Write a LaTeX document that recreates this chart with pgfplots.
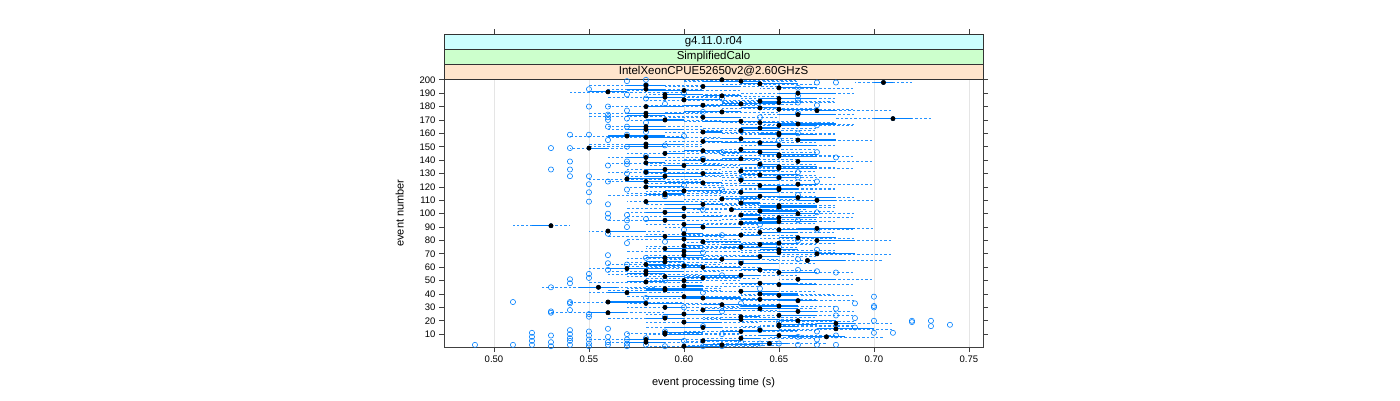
\documentclass[border=0pt]{standalone}
\usepackage{pgfplots}
\pgfplotsset{compat=1.18}
\usepackage{pgfplotstable}
\usepackage{fontspec}
\setmainfont{Liberation Sans}
\definecolor{bwblue}{HTML}{0080FF}
\definecolor{stripA}{HTML}{FFE5CC}
\definecolor{stripB}{HTML}{CCFFCC}
\definecolor{stripC}{HTML}{CCFFFF}

\pgfplotstableread{
ev lw q1 med q3 hw
1 0.58 0.60 0.60 0.62 0.64
2 0.60 0.61 0.62 0.64 0.65
3 0.615 0.635 0.645 0.655 0.675
4 0.56 0.57 0.58 0.59 0.61
5 0.60 0.61 0.61 0.63 0.65
6 0.55 0.57 0.58 0.60 0.61
7 0.61 0.63 0.63 0.64 0.67
8 0.645 0.655 0.675 0.685 0.705
9 0.63 0.64 0.65 0.66 0.68
10 0.58 0.59 0.59 0.61 0.63
11 0.57 0.59 0.59 0.61 0.63
12 0.60 0.62 0.63 0.64 0.66
13 0.62 0.63 0.64 0.66 0.67
14 0.65 0.67 0.68 0.70 0.71
15 0.58 0.59 0.61 0.62 0.64
16 0.63 0.65 0.65 0.66 0.69
17 0.64 0.65 0.65 0.67 0.69
18 0.66 0.67 0.68 0.69 0.71
19 0.58 0.60 0.60 0.62 0.64
20 0.63 0.65 0.66 0.68 0.69
21 0.61 0.62 0.63 0.65 0.66
22 0.56 0.58 0.59 0.60 0.62
23 0.61 0.63 0.63 0.64 0.67
24 0.63 0.65 0.65 0.67 0.69
25 0.58 0.59 0.60 0.62 0.63
26 0.53 0.55 0.56 0.57 0.59
27 0.64 0.65 0.66 0.67 0.69
28 0.60 0.61 0.61 0.63 0.65
29 0.61 0.63 0.64 0.66 0.67
30 0.57 0.59 0.59 0.60 0.63
31 0.62 0.63 0.65 0.66 0.68
32 0.60 0.61 0.62 0.63 0.65
33 0.57 0.58 0.58 0.60 0.62
34 0.54 0.56 0.56 0.58 0.60
35 0.63 0.65 0.66 0.67 0.69
36 0.62 0.63 0.64 0.66 0.67
37 0.58 0.60 0.61 0.63 0.64
38 0.57 0.58 0.60 0.61 0.63
39 0.63 0.65 0.65 0.66 0.69
40 0.63 0.64 0.64 0.66 0.68
41 0.55 0.56 0.57 0.58 0.60
42 0.61 0.63 0.63 0.65 0.67
43 0.56 0.58 0.59 0.61 0.62
44 0.57 0.58 0.59 0.61 0.62
45 0.525 0.545 0.555 0.565 0.585
46 0.58 0.60 0.60 0.61 0.64
47 0.63 0.65 0.65 0.67 0.69
48 0.62 0.63 0.64 0.66 0.67
49 0.55 0.57 0.58 0.59 0.61
50 0.58 0.59 0.60 0.61 0.63
51 0.65 0.66 0.66 0.68 0.70
52 0.58 0.60 0.61 0.63 0.64
53 0.57 0.59 0.59 0.60 0.63
54 0.60 0.61 0.63 0.64 0.66
55 0.56 0.57 0.58 0.59 0.61
56 0.64 0.65 0.65 0.67 0.69
57 0.56 0.58 0.58 0.60 0.62
58 0.61 0.63 0.64 0.65 0.67
59 0.55 0.56 0.57 0.59 0.60
60 0.58 0.60 0.61 0.63 0.64
61 0.57 0.58 0.60 0.61 0.63
62 0.56 0.58 0.58 0.59 0.62
63 0.62 0.63 0.63 0.65 0.67
64 0.57 0.58 0.59 0.60 0.62
65 0.645 0.665 0.665 0.685 0.705
66 0.59 0.61 0.62 0.64 0.65
67 0.57 0.58 0.59 0.61 0.62
68 0.61 0.63 0.64 0.65 0.67
69 0.58 0.60 0.60 0.61 0.64
70 0.65 0.67 0.67 0.69 0.71
71 0.63 0.64 0.65 0.67 0.68
72 0.57 0.59 0.60 0.61 0.63
73 0.63 0.64 0.65 0.66 0.68
74 0.58 0.59 0.59 0.61 0.63
75 0.60 0.62 0.63 0.65 0.66
76 0.58 0.60 0.60 0.61 0.64
77 0.61 0.62 0.64 0.65 0.67
78 0.63 0.64 0.65 0.66 0.68
79 0.60 0.61 0.61 0.63 0.65
80 0.65 0.67 0.67 0.69 0.71
81 0.57 0.59 0.60 0.61 0.63
82 0.64 0.65 0.66 0.68 0.69
83 0.56 0.58 0.59 0.61 0.62
84 0.60 0.61 0.63 0.64 0.66
85 0.58 0.60 0.60 0.61 0.64
86 0.63 0.64 0.64 0.66 0.68
87 0.55 0.56 0.56 0.58 0.59
88 0.63 0.65 0.65 0.67 0.69
89 0.64 0.66 0.67 0.69 0.70
90 0.59 0.60 0.61 0.63 0.64
91 0.51 0.52 0.53 0.53 0.54
92 0.58 0.60 0.60 0.61 0.64
93 0.61 0.63 0.63 0.65 0.67
94 0.63 0.64 0.65 0.67 0.68
95 0.56 0.58 0.59 0.60 0.62
96 0.62 0.63 0.64 0.65 0.67
97 0.64 0.65 0.65 0.67 0.69
98 0.57 0.59 0.60 0.62 0.63
99 0.61 0.63 0.63 0.64 0.67
100 0.63 0.64 0.66 0.67 0.69
101 0.57 0.58 0.59 0.60 0.62
102 0.63 0.64 0.64 0.66 0.68
103 0.605 0.625 0.625 0.645 0.665
104 0.57 0.59 0.60 0.61 0.63
105 0.63 0.64 0.65 0.67 0.68
106 0.62 0.64 0.65 0.67 0.68
107 0.58 0.59 0.61 0.62 0.64
108 0.61 0.63 0.63 0.64 0.67
109 0.57 0.58 0.58 0.60 0.62
110 0.65 0.66 0.67 0.68 0.70
111 0.60 0.62 0.62 0.64 0.66
112 0.63 0.65 0.66 0.68 0.69
113 0.62 0.63 0.64 0.66 0.67
114 0.56 0.58 0.59 0.60 0.62
115 0.57 0.59 0.59 0.60 0.63
116 0.61 0.63 0.63 0.65 0.67
117 0.58 0.59 0.60 0.62 0.63
118 0.62 0.64 0.65 0.66 0.68
119 0.63 0.64 0.65 0.66 0.68
120 0.57 0.58 0.58 0.60 0.62
121 0.61 0.63 0.64 0.66 0.67
122 0.64 0.66 0.66 0.67 0.70
123 0.58 0.59 0.61 0.62 0.64
124 0.56 0.57 0.58 0.59 0.61
125 0.62 0.63 0.63 0.65 0.67
126 0.55 0.57 0.57 0.59 0.61
127 0.62 0.64 0.65 0.66 0.68
128 0.57 0.58 0.59 0.61 0.62
129 0.61 0.63 0.64 0.66 0.67
130 0.58 0.59 0.61 0.62 0.64
131 0.56 0.58 0.58 0.59 0.62
132 0.62 0.63 0.63 0.65 0.67
133 0.57 0.58 0.59 0.60 0.62
134 0.63 0.65 0.65 0.67 0.69
135 0.62 0.64 0.65 0.67 0.68
136 0.58 0.59 0.60 0.62 0.63
137 0.61 0.63 0.64 0.65 0.67
138 0.56 0.58 0.58 0.59 0.62
139 0.64 0.66 0.66 0.68 0.70
140 0.59 0.60 0.61 0.63 0.64
141 0.60 0.62 0.63 0.64 0.66
142 0.56 0.57 0.58 0.59 0.61
143 0.64 0.65 0.65 0.67 0.69
144 0.62 0.64 0.65 0.67 0.68
145 0.57 0.59 0.59 0.60 0.63
146 0.61 0.62 0.64 0.65 0.67
147 0.59 0.60 0.61 0.62 0.64
148 0.62 0.63 0.63 0.65 0.67
149 0.54 0.55 0.55 0.56 0.57
150 0.55 0.57 0.58 0.59 0.61
151 0.63 0.64 0.65 0.67 0.68
152 0.55 0.57 0.58 0.60 0.61
153 0.61 0.62 0.64 0.65 0.67
154 0.59 0.61 0.61 0.62 0.65
155 0.65 0.66 0.66 0.68 0.70
156 0.61 0.62 0.63 0.64 0.66
157 0.56 0.58 0.58 0.60 0.62
158 0.54 0.56 0.57 0.59 0.60
159 0.63 0.64 0.65 0.67 0.68
160 0.62 0.64 0.65 0.66 0.68
161 0.59 0.61 0.61 0.62 0.65
162 0.61 0.63 0.63 0.65 0.67
163 0.56 0.57 0.58 0.60 0.61
164 0.61 0.63 0.64 0.65 0.67
165 0.56 0.57 0.58 0.59 0.61
166 0.64 0.65 0.65 0.67 0.69
167 0.63 0.65 0.66 0.68 0.69
168 0.62 0.64 0.64 0.65 0.68
169 0.60 0.61 0.63 0.64 0.66
170 0.57 0.58 0.59 0.60 0.62
171 0.68 0.70 0.71 0.72 0.73
172 0.59 0.61 0.61 0.63 0.65
173 0.55 0.57 0.58 0.59 0.61
174 0.64 0.65 0.66 0.68 0.69
175 0.55 0.57 0.58 0.60 0.61
176 0.59 0.60 0.62 0.63 0.65
177 0.65 0.67 0.67 0.68 0.71
178 0.64 0.65 0.65 0.67 0.69
179 0.62 0.63 0.64 0.65 0.67
180 0.56 0.58 0.58 0.60 0.62
181 0.58 0.60 0.61 0.63 0.64
182 0.61 0.62 0.63 0.65 0.66
183 0.62 0.64 0.65 0.66 0.68
184 0.62 0.64 0.64 0.65 0.68
185 0.58 0.60 0.60 0.62 0.64
186 0.63 0.64 0.65 0.67 0.68
187 0.56 0.58 0.59 0.60 0.62
188 0.60 0.61 0.62 0.63 0.65
189 0.58 0.59 0.59 0.61 0.63
190 0.63 0.65 0.66 0.68 0.69
191 0.54 0.55 0.56 0.57 0.60
192 0.57 0.58 0.60 0.61 0.63
193 0.56 0.57 0.58 0.59 0.61
194 0.64 0.65 0.65 0.67 0.69
195 0.59 0.61 0.61 0.63 0.65
196 0.55 0.57 0.58 0.59 0.61
197 0.62 0.63 0.64 0.66 0.67
198 0.69 0.70 0.705 0.71 0.72
199 0.60 0.61 0.63 0.64 0.66
200 0.60 0.62 0.62 0.63 0.66
}\boxdata

\pgfplotstableread{
x y
0.49 2
0.51 2
0.52 2
0.52 5
0.52 8
0.52 11
0.53 1
0.53 4
0.53 9
0.54 2
0.54 5
0.54 7
0.54 10
0.54 13
0.55 1
0.55 3
0.55 6
0.55 9
0.55 12
0.56 2
0.56 4
0.56 8
0.56 14
0.57 1
0.57 3
0.57 6
0.57 10
0.58 2
0.58 7
0.59 1
0.59 12
0.65 3
0.66 2
0.67 2
0.67 6
0.68 2
0.68 24
0.68 29
0.69 22
0.69 33
0.70 11
0.70 20
0.70 30
0.70 31
0.70 38
0.71 11
0.72 19
0.72 20
0.73 16
0.73 20
0.74 17
0.68 56
0.67 57
0.66 58
0.69 15
0.67 12
0.68 9
0.51 34
0.53 27
0.53 26
0.54 33
0.54 34
0.54 28
0.55 23
0.55 25
0.54 51
0.53 45
0.55 55
0.54 48
0.55 52
0.56 63
0.56 58
0.56 100
0.57 99
0.56 97
0.57 95
0.55 193
0.55 180
0.56 180
0.56 170
0.56 172
0.56 174
0.57 171
0.57 165
0.56 165
0.54 159
0.55 159
0.57 159
0.53 149
0.54 149
0.54 139
0.54 133
0.54 128
0.53 133
0.55 128
0.55 122
0.55 116
0.55 109
0.56 107
0.57 139
0.57 137
0.58 196
0.57 199
0.58 200
0.68 198
0.67 198
0.68 142
0.66 127
0.65 127
0.66 183
0.66 185
0.66 188
0.63 110
0.60 190
0.62 186
0.59 182
0.61 176
0.64 172
0.58 168
0.63 162
0.60 158
0.65 155
0.59 151
0.62 146
0.61 141
0.64 136
0.58 131
0.63 126
0.60 121
0.62 118
0.59 113
0.65 104
0.61 103
0.58 96
0.64 92
0.60 88
0.62 84
0.59 79
0.65 75
0.61 71
0.58 67
0.63 64
0.60 61
0.62 54
0.59 50
0.64 44
0.61 41
0.58 37
0.63 33
0.60 30
0.62 27
0.59 23
0.65 19
0.61 16
0.64 13
0.62 10
0.60 5
0.63 4
0.61 1
0.66 8
0.64 3
0.62 1
0.57 62
0.56 69
0.57 78
0.56 85
0.57 90
0.57 118
0.56 124
0.57 130
0.56 136
0.58 143
0.57 150
0.56 155
0.58 161
0.57 177
0.58 186
0.57 189
0.66 66
0.67 73
0.66 80
0.67 88
0.66 95
0.67 101
0.66 114
0.67 124
0.66 131
0.67 146
0.66 160
0.67 166
0.66 175
0.67 181
0.66 194
}\outl

\begin{document}
\begin{tikzpicture}[x=1pt,y=1pt]
\path[use as bounding box] (0,0) rectangle (1400,400);
\begin{axis}[
  at={(444pt,53pt)}, anchor=south west,
  scale only axis, width=539pt, height=268pt,
  xmin=0.4737, xmax=0.7574, ymin=0.4, ymax=200.6,
  xtick={0.50,0.55,0.60,0.65,0.70,0.75},
  ytick={10,20,30,40,50,60,70,80,90,100,110,120,130,140,150,160,170,180,190,200},
  xticklabel style={/pgf/number format/.cd, fixed, fixed zerofill, precision=2},
  /pgf/number format/assume math mode=true,
  tick label style={font=\fontsize{9.5}{11}\selectfont},
  label style={font=\fontsize{11}{13}\selectfont},
  xlabel={event processing time (s)},
  ylabel={event number},
  xlabel shift=8pt, ylabel shift=9pt,
  tick align=outside, major tick length=5pt,
  xtick pos=bottom, ytick pos=both, yticklabel pos=left,
  axis line style={black!75, line width=0.7pt},
  tick style={black!75, line width=0.7pt},
  xmajorgrids, major grid style={black!10, line width=0.5pt},
  clip=false,
]
% whiskers
\addplot[bwblue, only marks, mark=none, forget plot,
  error bars/.cd, x dir=both, x explicit, error mark=none,
  error bar style={bwblue!85, dash pattern=on 2.5pt off 2pt, line width=0.5pt}]
  table[x=med, y=ev, x error plus expr=\thisrow{hw}-\thisrow{med}, x error minus expr=\thisrow{med}-\thisrow{lw}] {\boxdata};
% boxes
\addplot[bwblue, only marks, mark=none, forget plot,
  error bars/.cd, x dir=both, x explicit, error mark=none,
  error bar style={bwblue, solid, line width=1.1pt}]
  table[x=med, y=ev, x error plus expr=\thisrow{q3}-\thisrow{med}, x error minus expr=\thisrow{med}-\thisrow{q1}] {\boxdata};
% outliers
\addplot[only marks, mark=o, mark size=2.6pt, bwblue, mark options={line width=0.6pt}] table[x=x, y=y] {\outl};
% medians
\addplot[only marks, mark=*, mark size=2.2pt, black] table[x=med, y=ev] {\boxdata};
% strips
\draw[fill=stripA, draw=black!80, line width=0.7pt] (rel axis cs:0,1) rectangle (rel axis cs:1,1.05597);
\draw[fill=stripB, draw=black!80, line width=0.7pt] (rel axis cs:0,1.05597) rectangle (rel axis cs:1,1.11194);
\draw[fill=stripC, draw=black!80, line width=0.7pt] (rel axis cs:0,1.11194) rectangle (rel axis cs:1,1.16791);
\node[font=\fontsize{11.5}{13}\selectfont] at (rel axis cs:0.5,1.02799) {IntelXeonCPUE52650v2@2.60GHzS};
\node[font=\fontsize{11.5}{13}\selectfont] at (rel axis cs:0.5,1.08396) {SimplifiedCalo};
\node[font=\fontsize{11.5}{13}\selectfont] at (rel axis cs:0.5,1.13993) {g4.11.0.r04};
\pgfplotsinvokeforeach{0.50,0.55,0.60,0.65,0.70,0.75}{
  \draw[black!75, line width=0.7pt] (axis cs:#1,234.2) -- (axis cs:#1,237.9);
}
\end{axis}
\end{tikzpicture}
\end{document}
